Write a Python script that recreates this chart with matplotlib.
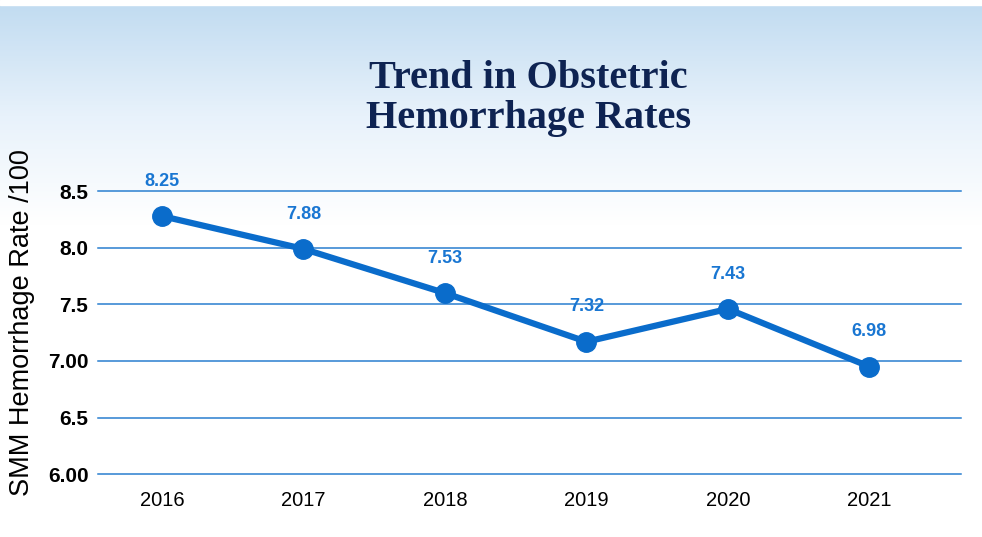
import numpy as np
import matplotlib.pyplot as plt
from matplotlib.colors import LinearSegmentedColormap

years = ["2016", "2017", "2018", "2019", "2020", "2021"]
# plotted positions
rates = [8.28, 7.99, 7.60, 7.17, 7.46, 6.95]
# values printed above the points
rate_labels = ["8.25", "7.88", "7.53", "7.32", "7.43", "6.98"]
yticks = [6.0, 6.5, 7.0, 7.5, 8.0, 8.5]
ytick_labels = ["6.00", "6.5", "7.00", "7.5", "8.0", "8.5"]

blue = "#0a6ccb"
label_blue = "#1976d2"
navy = "#0e2352"

fig = plt.figure(figsize=(9.82, 5.37), dpi=100)

# background gradient (light blue at top fading to white)
bg = fig.add_axes([0, 0, 1, 1], zorder=-10)
grad_cmap = LinearSegmentedColormap.from_list("bg", ["#ffffff", "#e8f2fb", "#c2dcf1"])
grad = np.linspace(0, 1, 537).reshape(-1, 1)
grad = np.clip((grad - 0.58) / 0.41, 0, 1)
bg.imshow(grad, aspect="auto", cmap=grad_cmap, origin="lower", extent=[0, 1, 0, 1])
bg.axhspan(0.99, 1.0, color="white")
bg.set_xlim(0, 1)
bg.set_ylim(0, 1)
bg.axis(False)

fig.text(0.538, 0.817, "Trend in Obstetric\nHemorrhage Rates", ha="center", va="center",
         fontsize=29, fontweight="bold", family="Liberation Serif", color=navy, linespacing=1.12)

ax = fig.add_axes([0.1, 0.117, 0.879, 0.527])
ax.patch.set_alpha(0)
x = np.arange(len(years))
ax.plot(x, rates, color=blue, lw=4.5, marker="o", ms=14, solid_capstyle="round", zorder=3, clip_on=False)
for xi, yi, lab in zip(x, rates, rate_labels):
    ax.annotate(lab, (xi, yi), xytext=(0, 19), textcoords="offset points", ha="center", va="bottom",
                fontsize=13, fontweight="bold", color=label_blue, family="Liberation Sans")

ax.set_ylim(6.0, 8.5)
ax.set_xlim(-0.45, 5.65)
ax.set_yticks(yticks)
ax.set_yticklabels(ytick_labels, fontsize=15, fontweight="bold", family="Liberation Sans")
ax.set_xticks(x)
ax.set_xticklabels(years, fontsize=14.5, family="Liberation Sans")
ax.tick_params(length=0, pad=7)
ax.tick_params(axis="x", pad=12)
for v in yticks:
    ax.axhline(v, color="#2a7fd0", lw=1.1, zorder=1, clip_on=False)
for s in ax.spines.values():
    s.set_visible(False)

fig.text(0.022, 0.40, "SMM Hemorrhage Rate /100", rotation=90, ha="center", va="center",
         fontsize=19.5, family="Liberation Sans", color="black")

fig.savefig("out.png", dpi=100)
